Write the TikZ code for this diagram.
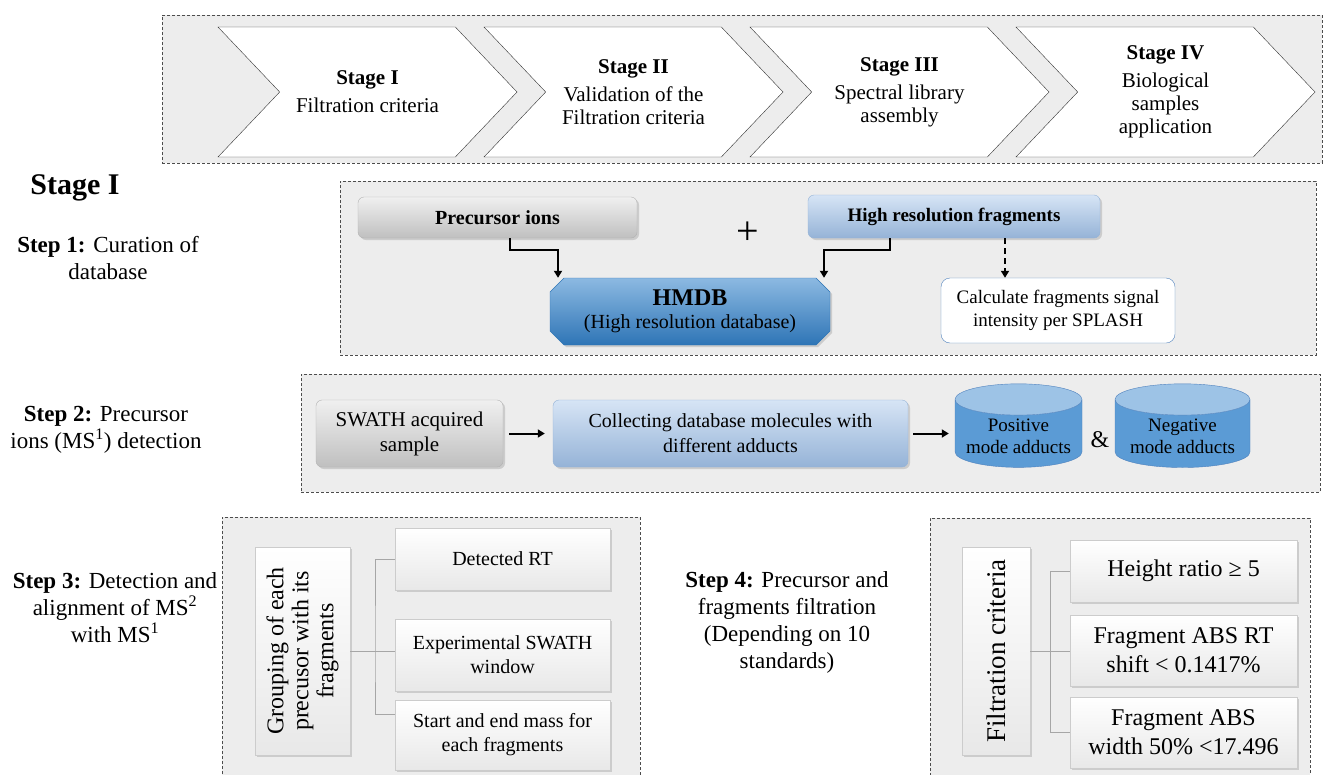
\documentclass[tikz,border=0pt]{standalone}
\usepackage{fontspec}
\setmainfont{Liberation Serif}
\usetikzlibrary{arrows.meta,positioning,shapes,shadows}
\definecolor{panelgray}{RGB}{237,237,237}
\definecolor{boxblue}{RGB}{91,155,213}
\definecolor{deepblue}{RGB}{46,117,182}
\definecolor{paleblue}{RGB}{197,217,241}
\definecolor{midblue}{RGB}{149,179,215}
\definecolor{lineblue}{RGB}{79,129,189}

\begin{document}
\begin{tikzpicture}[x=1pt,y=-1pt,
  panel/.style={draw=black!70,dash pattern=on 3pt off 2pt,fill=panelgray,inner sep=0pt},
  stagebox/.style={draw=black!80,fill=white,signal,signal from=west,signal to=east,signal pointer angle=93,minimum width=299pt,minimum height=130pt,align=center,font=\fontsize{21}{23}\selectfont},
  steplabel/.style={align=center,font=\fontsize{23}{27}\selectfont},
  graybox/.style={rounded corners=6pt,draw=gray!60,top color=gray!12,bottom color=gray!50,drop shadow={opacity=.3,shadow xshift=2pt,shadow yshift=-2pt},align=center},
  bluebox/.style={rounded corners=6pt,draw=midblue,top color=paleblue!70,bottom color=midblue,drop shadow={opacity=.3,shadow xshift=2pt,shadow yshift=-2pt},align=center},
  leafbox/.style={draw=gray!40,top color=white,bottom color=gray!18,drop shadow={opacity=.3,shadow xshift=2pt,shadow yshift=-2pt},align=center,minimum width=215pt},
  adduct/.style={cylinder,shape border rotate=90,aspect=.28,draw=lineblue,cylinder uses custom fill,cylinder body fill=boxblue,cylinder end fill=boxblue!60,align=center,font=\fontsize{19}{22}\selectfont},
  flow/.style={-{Triangle[length=7pt,width=8pt]},line width=2pt},
  tree/.style={draw=gray!70,thin}]
\useasboundingbox (0,0) rectangle (1325,774);

% stages band
\node[panel,minimum width=1160pt,minimum height=148pt] (band) at (742,89) {};
\node[stagebox] (st1) at (367.5,92) {\textbf{Stage I}\\[5pt]Filtration criteria};
\node[stagebox] (st2) at (633.5,92) {\textbf{Stage II}\\[5pt]Validation of the\\Filtration criteria};
\node[stagebox] (st3) at (899.5,92) {\textbf{Stage III}\\[5pt]Spectral library\\assembly};
\node[stagebox] (st4) at (1165.5,92) {\textbf{Stage IV}\\[5pt]Biological\\samples\\application};

\node[font=\bfseries\fontsize{30}{34}\selectfont] (stagehead) at (75,188) {Stage I};

% step labels
\node[steplabel] (s1lab) at (108,258) {\textbf{Step 1:} Curation of\\database};
\node[steplabel] (s2lab) at (106,430) {\textbf{Step 2:} Precursor\\ions (MS\textsuperscript{1}) detection};
\node[steplabel] (s3lab) at (115,608) {\textbf{Step 3:} Detection and\\alignment of MS\textsuperscript{2}\\with MS\textsuperscript{1}};
\node[steplabel] (s4lab) at (787,622) {\textbf{Step 4:} Precursor and\\fragments filtration\\(Depending on 10\\standards)};

% step 1
\node[panel,minimum width=976pt,minimum height=174pt] (p1) at (828,268) {};
\node[graybox,minimum width=279pt,minimum height=41pt,font=\bfseries\fontsize{20}{22}\selectfont] (prec) at (497.5,217.5) {Precursor ions};
\node[font=\fontsize{40}{40}\selectfont] (plus) at (748,233) {+};
\node[bluebox,minimum width=292pt,minimum height=43pt,font=\bfseries\fontsize{19}{22}\selectfont] (hrf) at (954,216.5) {High resolution fragments};
\node[chamfered rectangle,chamfered rectangle xsep=7pt,chamfered rectangle ysep=7pt,draw=deepblue,top color=boxblue!70,bottom color=deepblue,drop shadow={opacity=.3,shadow xshift=2pt,shadow yshift=-2pt},minimum width=280pt,minimum height=67pt,align=center,font=\fontsize{20}{23}\selectfont] (hmdb) at (690,311.5) {{\bfseries\fontsize{24}{26}\selectfont HMDB}\\(High resolution database)};
\node[draw=lineblue,rounded corners=9pt,fill=white,minimum width=234pt,minimum height=65pt,align=center,font=\fontsize{19}{23}\selectfont] (calc) at (1058,310.5) {Calculate fragments signal\\intensity per SPLASH};
\draw[flow] ([xshift=12pt]prec.south) -- ++(0,12) -| ([xshift=-132pt]hmdb.north);
\draw[flow] ([xshift=-64pt]hrf.south) -- ++(0,12) -| ([xshift=134pt]hmdb.north);
\draw[flow,dash pattern=on 6pt off 4pt] ([xshift=51pt]hrf.south) -- ([xshift=51pt]hrf.south |- calc.north);

% step 2
\node[panel,minimum width=1019pt,minimum height=118pt] (p2) at (810.5,433) {};
\node[graybox,minimum width=187pt,minimum height=67pt,font=\fontsize{21}{25}\selectfont] (swath) at (409.5,433.5) {SWATH acquired\\sample};
\node[bluebox,minimum width=355pt,minimum height=67pt,font=\fontsize{20}{25}\selectfont] (coll) at (730.5,433.5) {Collecting database molecules with\\different adducts};
\node[adduct,minimum width=127pt,minimum height=68pt] (pos) at (1018.5,436) {Positive\\mode adducts};
\node[font=\fontsize{24}{24}\selectfont] (amp) at (1100,440) {\&};
\node[adduct,minimum width=135pt,minimum height=68pt] (neg) at (1182.5,436) {Negative\\mode adducts};
\draw[flow,shorten <=6pt,shorten >=8pt] (swath) -- (coll);
\draw[flow,shorten <=5pt,shorten >=6pt] (coll) -- (coll -| pos.west);

% step 3
\node[panel,minimum width=418pt,minimum height=270pt] (p3) at (431,652) {};
\node[leafbox,rotate=90,minimum width=208pt,minimum height=95pt,font=\fontsize{24}{25}\selectfont] (group) at (302.5,651) {Grouping of each\\precusor with its\\fragments};
\node[leafbox,minimum height=62pt,font=\fontsize{20}{24}\selectfont] (rt) at (502.5,559) {Detected RT};
\node[leafbox,minimum height=72pt,font=\fontsize{20}{24}\selectfont] (expw) at (502.5,655) {Experimental SWATH\\window};
\node[leafbox,minimum height=70pt,font=\fontsize{20}{24}\selectfont] (mass) at (502.5,735) {Start and end mass for\\each fragments};
\coordinate (gfork) at (375,651);
\draw[tree] (group.south) -- (gfork);
\draw[tree] (rt.west) -| (gfork) |- ([yshift=21pt]mass.west);
\draw[tree] (gfork) -- (gfork -| expw.west);

% step 4
\node[panel,minimum width=380pt,minimum height=270pt] (p4) at (1120,653) {};
\node[leafbox,rotate=90,minimum width=208pt,minimum height=68pt,font=\fontsize{27}{28}\selectfont] (filt) at (996,651) {Filtration criteria};
\node[leafbox,minimum width=227pt,minimum height=62pt,font=\fontsize{24}{29}\selectfont] (hr) at (1183.5,571) {Height ratio ≥ 5};
\node[leafbox,minimum width=227pt,minimum height=71pt,font=\fontsize{24}{29}\selectfont] (shift) at (1183.5,650.5) {Fragment ABS RT\\shift < 0.1417\%};
\node[leafbox,minimum width=227pt,minimum height=71pt,font=\fontsize{24}{29}\selectfont] (wid) at (1183.5,732.5) {Fragment ABS\\width 50\% <17.496};
\coordinate (ffork) at (1050,651);
\draw[tree] (filt.south) -- (ffork);
\draw[tree] (hr.west) -| (ffork) |- (wid.west);
\draw[tree] (ffork) -- (ffork -| shift.west);
\end{tikzpicture}
\end{document}
